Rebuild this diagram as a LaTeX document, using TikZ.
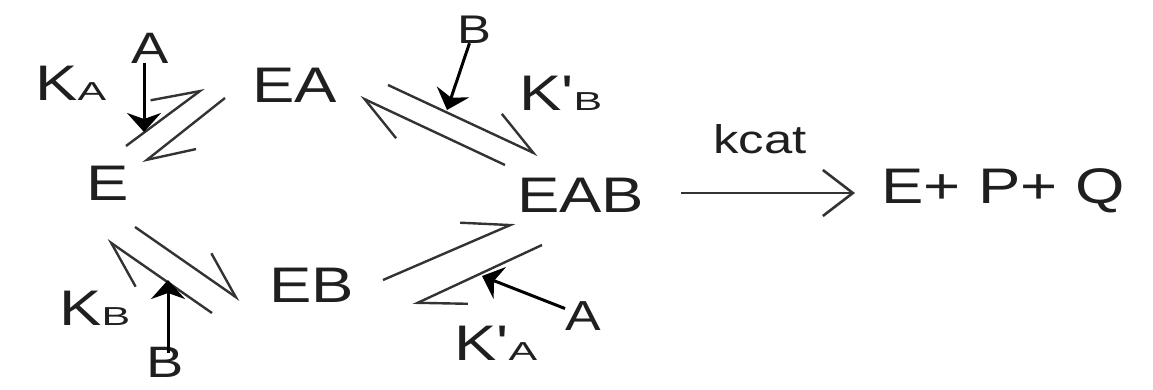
\documentclass[tikz,border=0pt]{standalone}
\usepackage{fontspec}
\setmainfont{Liberation Sans}[FakeStretch=1.27]
\newfontfamily\subfont{Liberation Sans}[FakeStretch=1.65]
\usetikzlibrary{arrows.meta}
\newcommand{\sub}[1]{{\subfont\fontsize{26}{26}\selectfont #1}}
\newcommand{\prm}{{\addfontfeatures{Ligatures=TeXOff}'}}

\begin{document}
\begin{tikzpicture}[x=1pt,y=-1pt,
  every node/.style={inner sep=0pt, anchor=base west, text=black!88},
  species/.style={font=\fontsize{50}{50}\selectfont},
  rate/.style={font=\fontsize{50}{50}\selectfont},
  reagent/.style={font=\fontsize{#1}{#1}\selectfont},
  small/.style={font=\fontsize{40}{40}\selectfont},
  harpoon/.style={draw=black!80, line width=2.4pt,
    -{Straight Barb[left,length=45pt,width=44pt,line width=2.4pt]}},
  binding/.style={draw=black, line width=3pt,
    -{Stealth[length=19pt,width=34pt,inset=6pt]}},
  react/.style={draw=black!80, line width=2.6pt,
    -{Straight Barb[length=30pt,width=46pt,line width=2.6pt]}}
]
\useasboundingbox (0,0) rectangle (1153,389);

% enzyme species
\node[species] (E)    at (86,200)  {E};
\node[species] (EA)   at (252,102) {EA};
\node[species] (EAB)  at (517,212) {EAB};
\node[species] (EB)   at (269,302) {EB};
\node[species] (prod) at (881,203) {E+ P+ Q};

% dissociation constants
\node[rate] (KA)  at (35,100)  {K\sub{A}};
\node[rate] (KpB) at (519,110) {K\prm\sub{B}};
\node[rate] (KB)  at (59,325)  {K\sub{B}};
\node[rate] (KpA) at (454,360) {K\prm\sub{A}};
\node[small] (kcat) at (713,153) {kcat};

% substrates
\node[reagent=44] (Atop) at (131,63)  {A};
\node[reagent=40] (Btop) at (457,43)  {B};
\node[reagent=44] (Bbot) at (146,377) {B};
\node[reagent=42] (Arig) at (565,330) {A};

% ends of the equilibrium harpoons
\coordinate (h1a) at (126,146); \coordinate (h1b) at (204,88);
\coordinate (h2a) at (225,98);  \coordinate (h2b) at (143,163);
\coordinate (h3a) at (388,85);  \coordinate (h3b) at (538,155);
\coordinate (h4a) at (505,165); \coordinate (h4b) at (360,97);
\coordinate (h5a) at (135,227); \coordinate (h5b) at (240,300);
\coordinate (h6a) at (212,313); \coordinate (h6b) at (107,240);
\coordinate (h7a) at (383,280); \coordinate (h7b) at (515,223);
\coordinate (h8a) at (542,245); \coordinate (h8b) at (413,305);

% E <=> EA
\draw[harpoon] (h1a) -- (h1b);
\draw[harpoon] (h2a) -- (h2b);
% EA <=> EAB
\draw[harpoon] (h3a) -- (h3b);
\draw[harpoon] (h4a) -- (h4b);
% E <=> EB
\draw[harpoon] (h5a) -- (h5b);
\draw[harpoon] (h6a) -- (h6b);
% EB <=> EAB
\draw[harpoon] (h7a) -- (h7b);
\draw[harpoon] (h8a) -- (h8b);

% substrate binding arrows
\coordinate (bA1) at (144,132);
\coordinate (bB1) at (447,110);
\coordinate (bB2) at (168,280);
\coordinate (bA2) at (482,276);
\draw[binding] (Atop.south -| bA1) -- (bA1);
\draw[binding] (Btop) -- (bB1);
\draw[binding] ([yshift=-6pt]Bbot.north -| bB2) -- (bB2);
\draw[binding] (Arig) -- (bA2);

% catalytic step
\coordinate (kin)  at (681,193);
\coordinate (kout) at (855,193);
\draw[react] (kin) -- (kout);
\end{tikzpicture}
\end{document}
